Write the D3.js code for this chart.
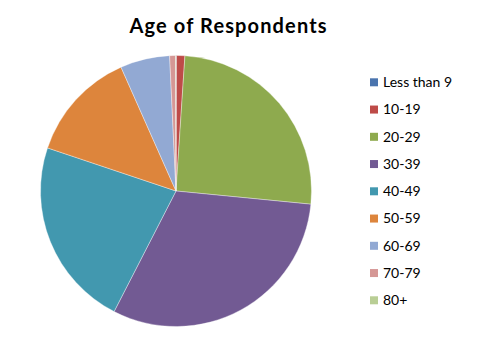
<!DOCTYPE html>
<html><head><meta charset="utf-8">
<script src="https://cdn.jsdelivr.net/npm/d3@7"></script>
<style>body{margin:0;background:#fff}</style>
</head><body>
<svg id="c" width="489" height="345"></svg>
<script>
const categories = ["Less than 9","10-19","20-29","30-39","40-49","50-59","60-69","70-79","80+"];
const values = [0.05, 1.0, 25.5, 31.0, 22.6, 13.2, 5.9, 0.7, 0.05];
const colors = ["#4A74AE","#BE4B48","#8EAA4E","#725A93","#4298AF","#DD853C","#92A9D3","#D59795","#B9CE95"];
const title = "Age of Respondents";

const svg = d3.select("#c");
const font = "Lato, 'Open Sans', sans-serif";
svg.append("text").attr("x", 228).attr("y", 33).attr("text-anchor","middle")
  .attr("font-family", font).attr("font-weight","bold").attr("font-size", 20)
  .attr("textLength", 197).attr("lengthAdjust","spacing")
  .attr("fill","#000").text(title);

const cx = 176, cy = 191, r = 135.5;
const pie = d3.pie().sort(null).value(d => d.v);
const data = pie(categories.map((c,i)=>({c, v: values[i], col: colors[i]})));
const arc = d3.arc().innerRadius(0).outerRadius(r);
const g = svg.append("g").attr("transform",`translate(${cx},${cy})`);
g.selectAll("path").data(data).join("path")
  .attr("d", arc).attr("fill", d => d.data.col)
  .attr("stroke","#fff").attr("stroke-width",0.6).attr("stroke-opacity",0.6);

const ly = d3.scalePoint().domain(categories).range([82.3, 300.3]);
const lg = svg.append("g");
lg.selectAll("rect").data(categories).join("rect")
  .attr("x", 370).attr("y", d => ly(d) - 4).attr("width", 8).attr("height", 8)
  .attr("fill", (d,i) => colors[i]);
lg.selectAll("text").data(categories).join("text")
  .attr("x", 383).attr("y", d => ly(d) + 4.8)
  .attr("font-family", font).attr("font-size", 14).attr("fill","#000")
  .text(d => d);
</script>
</body></html>
